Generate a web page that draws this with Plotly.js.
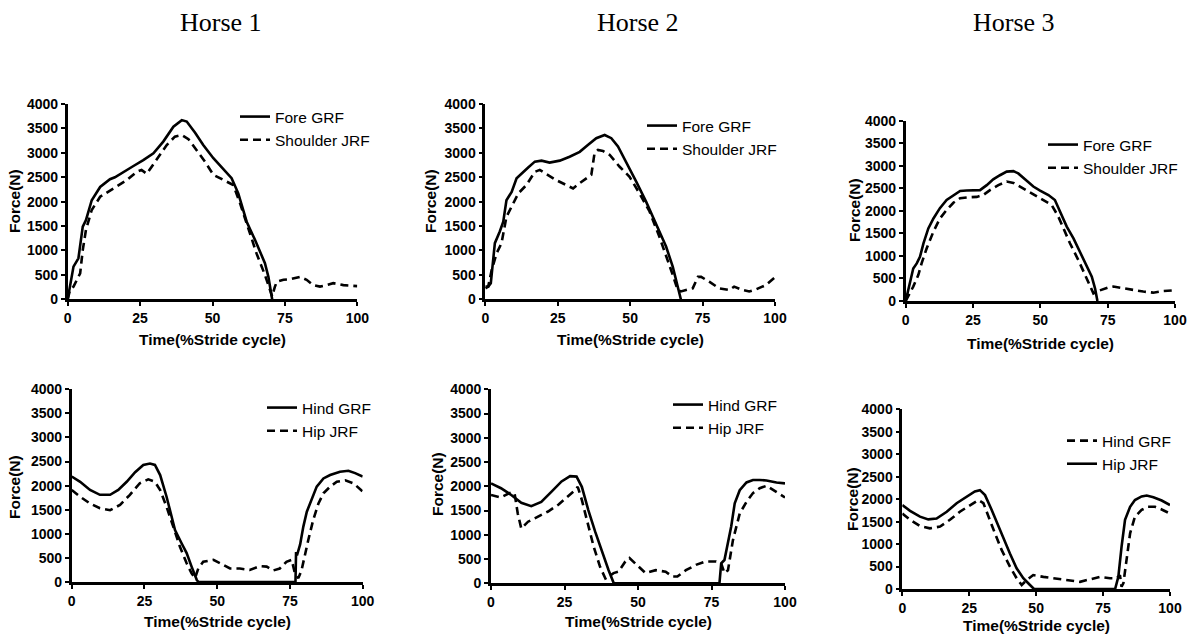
<!DOCTYPE html>
<html>
<head>
<meta charset="utf-8">
<script src="https://cdn.plot.ly/plotly-3.0.1.min.js"></script>
<style>
html,body{margin:0;padding:0;background:#fff;}
#chart{width:1188px;height:634px;}
</style>
</head>
<body>
<div id="chart"></div>
<script>
// ---------- data (Time % stride cycle, Force N) ----------
const horseTitles = ["Horse 1", "Horse 2", "Horse 3"];
const xTicks = [0, 25, 50, 75, 100];
const yTicks = [0, 500, 1000, 1500, 2000, 2500, 3000, 3500, 4000];

// Horse 1 – forelimb
const h1ForeGrfX = [0, 0.8, 2.0, 3.7, 4.6, 5.2, 6.3, 8.3, 11.2, 14.6, 16.3, 19.2, 22.7, 26.1, 29.6, 33.0, 36.5, 39.4, 41.1, 44.0, 46.8, 50.3, 53.7, 56.6, 58.9, 61.8, 64.7, 68.1, 69.3, 70.1, 70.6];
const h1ForeGrfY = [0, 260, 670, 840, 1280, 1490, 1620, 2030, 2300, 2460, 2500, 2610, 2730, 2850, 2990, 3230, 3535, 3670, 3640, 3410, 3160, 2890, 2680, 2480, 2170, 1590, 1215, 740, 460, 190, 0];
const h1ShoulderX = [0, 0.8, 2.0, 4.3, 5.2, 6.3, 8.3, 11.2, 15.8, 20.4, 23.8, 25.5, 27.3, 30.7, 34.2, 37.0, 39.4, 41.7, 44.5, 47.4, 50.3, 53.7, 57.2, 59.5, 62.4, 65.2, 68.1, 69.6, 70.6, 71.5, 72.2, 74.5, 76.8, 80.2, 82.5, 84.8, 87.1, 89.4, 91.7, 95.2, 100];
const h1ShoulderY = [0, 190, 260, 530, 1010, 1420, 1830, 2100, 2270, 2440, 2610, 2650, 2570, 2850, 3160, 3330, 3365, 3280, 3060, 2820, 2550, 2440, 2340, 1970, 1450, 940, 500, 260, 60, 250, 360, 400, 410, 460, 400, 290, 260, 290, 330, 290, 270];

// Horse 2 – forelimb
const h2ForeGrfX = [0, 1.0, 1.9, 3.3, 5.0, 6.2, 7.3, 9.1, 10.8, 12.5, 14.8, 17.1, 19.4, 22.2, 25.7, 29.1, 32.6, 35.4, 38.3, 41.2, 43.5, 45.8, 48.6, 52.1, 55.5, 59.0, 62.4, 64.7, 66.4, 67.5];
const h2ForeGrfY = [260, 260, 330, 1150, 1390, 1590, 2030, 2200, 2480, 2580, 2700, 2820, 2840, 2800, 2840, 2920, 3020, 3160, 3300, 3365, 3300, 3130, 2820, 2410, 2000, 1520, 1080, 670, 260, 0];
const h2ShoulderX = [0, 1.0, 2.2, 3.9, 5.6, 7.3, 9.1, 11.4, 14.2, 17.1, 18.8, 21.1, 24.5, 28.0, 30.3, 32.6, 34.9, 36.6, 37.7, 38.9, 40.6, 42.9, 46.3, 49.8, 53.2, 56.7, 60.1, 62.4, 64.7, 66.4, 67.5, 69.3, 71.6, 73.4, 74.5, 77.3, 80.7, 84.2, 85.9, 88.8, 91.1, 93.3, 96.8, 100];
const h2ShoulderY = [225, 260, 600, 940, 1150, 1690, 1900, 2170, 2340, 2610, 2650, 2570, 2440, 2340, 2270, 2380, 2480, 2550, 2990, 3060, 3040, 2960, 2720, 2510, 2170, 1800, 1280, 910, 500, 190, 160, 190, 225, 460, 460, 360, 225, 190, 260, 190, 160, 200, 290, 450];

// Horse 3 – forelimb
const h3ForeGrfX = [0, 1.0, 2.2, 2.8, 4.1, 5.3, 6.6, 8.4, 10.3, 12.7, 15.2, 17.7, 20.2, 22.6, 25.1, 27.6, 30.1, 32.5, 35.0, 37.5, 40.0, 41.8, 44.3, 47.4, 49.9, 53.0, 55.4, 57.3, 59.8, 62.3, 64.7, 67.2, 69.1, 70.3, 71.2];
const h3ForeGrfY = [0, 240, 540, 720, 835, 980, 1280, 1610, 1830, 2060, 2240, 2350, 2440, 2450, 2450, 2460, 2570, 2700, 2790, 2870, 2880, 2830, 2700, 2540, 2450, 2350, 2240, 1980, 1650, 1390, 1090, 800, 540, 280, 0];
const h3ShoulderX = [0, 1.6, 2.8, 4.7, 5.9, 7.8, 10.3, 12.7, 15.2, 17.7, 20.2, 23.3, 26.4, 28.8, 31.3, 34.4, 37.5, 40.0, 42.4, 45.5, 48.6, 51.7, 54.2, 56.7, 58.5, 61.0, 64.1, 66.6, 68.4, 69.7, 70.9, 72.2, 75.2, 77.1, 80.8, 84.5, 88.2, 91.9, 95.7, 100];
const h3ShoulderY = [0, 170, 320, 580, 835, 1170, 1540, 1830, 2020, 2180, 2280, 2300, 2310, 2350, 2460, 2570, 2650, 2620, 2540, 2430, 2330, 2230, 2130, 1870, 1610, 1280, 910, 580, 320, 170, 210, 240, 300, 320, 280, 240, 210, 185, 220, 240];

// Horse 1 – hindlimb
const h1HindGrfX = [0, 2.9, 6.3, 9.7, 13.2, 16.0, 18.9, 21.8, 24.6, 26.9, 28.6, 30.4, 32.6, 34.4, 35.5, 37.8, 39.5, 41.2, 43.0, 43.6, 76.9, 77.1, 77.4, 78.5, 79.6, 80.8, 82.5, 84.2, 86.5, 88.8, 92.2, 95.1, 97.4, 100];
const h1HindGrfY = [2190, 2080, 1910, 1810, 1810, 1910, 2080, 2280, 2430, 2460, 2430, 2220, 1770, 1360, 1080, 800, 600, 320, 40, 0, 0, 620, 550, 780, 1150, 1460, 1740, 1980, 2150, 2220, 2290, 2310, 2260, 2190];
const h1HipX = [0, 2.9, 6.3, 9.7, 13.2, 16.6, 20.0, 23.4, 26.3, 28.6, 30.4, 32.6, 34.9, 37.2, 39.5, 41.2, 42.4, 43.5, 45.2, 48.7, 51.0, 54.4, 57.8, 61.2, 64.7, 67.0, 69.3, 71.5, 73.8, 75.6, 76.7, 77.9, 79.0, 80.2, 81.3, 83.0, 84.8, 86.5, 88.8, 91.1, 94.0, 96.8, 100];
const h1HipY = [1910, 1770, 1630, 1530, 1490, 1600, 1810, 2050, 2130, 2080, 1910, 1560, 1150, 730, 390, 180, 80, 280, 420, 460, 390, 280, 280, 250, 330, 320, 240, 280, 420, 460, 180, 80, 250, 600, 870, 1290, 1630, 1840, 1980, 2080, 2110, 2050, 1880];

// Horse 2 – hindlimb
const h2HindGrfX = [0, 3.4, 6.9, 10.3, 13.7, 17.1, 20.6, 24.0, 26.9, 29.1, 30.9, 33.1, 35.4, 37.7, 40.0, 41.7, 42.0, 77.7, 78.3, 79.4, 80.6, 81.7, 82.9, 84.6, 86.9, 89.1, 91.4, 93.7, 97.1, 100];
const h2HindGrfY = [2060, 1960, 1820, 1660, 1590, 1680, 1890, 2100, 2210, 2200, 1990, 1510, 1070, 650, 270, 10, 0, 0, 410, 480, 820, 1170, 1650, 1920, 2080, 2130, 2130, 2120, 2080, 2060];
const h2HipX = [0, 3.4, 6.3, 8.0, 9.1, 10.3, 12.6, 16.0, 19.4, 22.9, 26.3, 28.6, 29.5, 30.9, 32.6, 34.9, 37.1, 38.9, 40.0, 41.7, 43.4, 45.7, 47.1, 49.1, 52.6, 56.0, 59.4, 61.7, 63.4, 66.3, 69.7, 73.1, 76.6, 78.3, 79.4, 80.6, 82.3, 84.6, 86.9, 89.1, 91.4, 93.7, 96.0, 98.3, 100];
const h2HipY = [1820, 1770, 1860, 1860, 1440, 1130, 1270, 1370, 1480, 1620, 1790, 1920, 1990, 1720, 1310, 760, 340, 100, 140, 210, 240, 450, 520, 410, 210, 270, 240, 140, 140, 270, 380, 450, 450, 410, 210, 270, 890, 1440, 1680, 1860, 1960, 2010, 1920, 1820, 1770];

// Horse 3 – hindlimb (legend as printed: dashed = Hind GRF, solid = Hip JRF)
const h3HindGrfX = [0, 2.9, 6.6, 10.3, 14.1, 17.8, 21.5, 25.3, 28.4, 30.3, 32.1, 34.6, 37.1, 40.2, 42.7, 44.6, 46.5, 48.9, 52.7, 56.4, 61.4, 66.4, 70.1, 73.8, 77.6, 80.1, 81.3, 81.9, 82.6, 83.8, 85.1, 86.9, 89.4, 91.8, 94.4, 96.9, 100];
const h3HindGrfY = [1680, 1540, 1400, 1350, 1390, 1540, 1720, 1870, 1980, 1910, 1610, 1240, 870, 500, 240, 90, 200, 310, 270, 240, 200, 160, 215, 270, 240, 240, 310, 50, 130, 650, 1240, 1610, 1760, 1830, 1830, 1770, 1680];
const h3HipX = [0, 2.9, 6.6, 9.7, 12.8, 16.6, 20.3, 24.0, 27.1, 29.0, 30.9, 33.4, 36.5, 40.2, 42.7, 45.2, 47.7, 49.2, 79.5, 80.7, 81.9, 83.2, 85.1, 86.9, 89.4, 91.3, 93.8, 96.9, 100];
const h3HipY = [1870, 1740, 1610, 1550, 1570, 1720, 1910, 2060, 2170, 2200, 2090, 1760, 1310, 790, 460, 240, 90, 0, 0, 270, 940, 1540, 1830, 1980, 2060, 2080, 2040, 1970, 1870];

// ---------- layout helpers ----------
const W = 1188, H = 634;
const FONT = "Liberation Sans, Arial, Helvetica, sans-serif";
const px = v => v / W;
const py = v => 1 - v / H;

// panel pixel boxes: [left, right, top, bottom]
const boxes = [
  [67.7, 357.3, 104, 299.3],
  [485.3, 775, 104, 299.3],
  [905.7, 1175, 120.7, 301],
  [71.7, 362.7, 389.3, 582],
  [491, 785, 389.3, 583.3],
  [902.3, 1170, 409.3, 589]
];
// legend anchor (px): [x, top]
const legPos = [[235, 100], [642, 109], [1043, 128], [262, 391], [668, 388], [1062, 424]];
const xTitlePos = [[212.5, 339], [630, 339], [1040, 343], [217, 621], [638, 621], [1036, 625]];
const yTitlePos = [[14, 201], [430, 201], [855, 210], [14, 487], [437, 484], [852, 499]];
const titlePos = [[221, 22], [638, 22], [1014, 22]];

const solid = {color: "#000", width: 2.6, dash: "solid"};
const dashed = {color: "#000", width: 2.6, dash: "8px,5px"};

const series = [
  [ {x: h1ForeGrfX, y: h1ForeGrfY, name: "Fore GRF", line: solid},
    {x: h1ShoulderX, y: h1ShoulderY, name: "Shoulder JRF", line: dashed} ],
  [ {x: h2ForeGrfX, y: h2ForeGrfY, name: "Fore GRF", line: solid},
    {x: h2ShoulderX, y: h2ShoulderY, name: "Shoulder JRF", line: dashed} ],
  [ {x: h3ForeGrfX, y: h3ForeGrfY, name: "Fore GRF", line: solid},
    {x: h3ShoulderX, y: h3ShoulderY, name: "Shoulder JRF", line: dashed} ],
  [ {x: h1HindGrfX, y: h1HindGrfY, name: "Hind GRF", line: solid},
    {x: h1HipX, y: h1HipY, name: "Hip JRF", line: dashed} ],
  [ {x: h2HindGrfX, y: h2HindGrfY, name: "Hind GRF", line: solid},
    {x: h2HipX, y: h2HipY, name: "Hip JRF", line: dashed} ],
  [ {x: h3HindGrfX, y: h3HindGrfY, name: "Hind GRF", line: dashed},
    {x: h3HipX, y: h3HipY, name: "Hip JRF", line: solid} ]
];

const traces = [];
const layout = {
  width: W, height: H,
  margin: {l: 0, r: 0, t: 0, b: 0},
  paper_bgcolor: "#fff", plot_bgcolor: "#fff",
  font: {family: FONT, color: "#000"},
  annotations: [],
  showlegend: true
};

series.forEach((pair, i) => {
  const n = i + 1;
  const xa = "xaxis" + (n === 1 ? "" : n), ya = "yaxis" + (n === 1 ? "" : n);
  const xr = "x" + (n === 1 ? "" : n), yr = "y" + (n === 1 ? "" : n);
  const lg = "legend" + (n === 1 ? "" : n);
  pair.forEach(s => {
    traces.push({
      type: "scatter", mode: "lines",
      x: s.x, y: s.y, name: s.name, line: s.line,
      xaxis: xr, yaxis: yr, legend: lg, hoverinfo: "x+y+name"
    });
  });
  const b = boxes[i];
  const axCommon = {
    showgrid: false, zeroline: false, showline: true,
    linecolor: "#000", linewidth: 2.6,
    ticks: "outside", ticklen: 4, tickwidth: 2.4, tickcolor: "#000",
    tickfont: {family: FONT, size: 14, weight: "bold", color: "#000"},
    fixedrange: true
  };
  layout[xa] = Object.assign({}, axCommon, {
    domain: [px(b[0]), px(b[1])], anchor: yr,
    range: [0, 100], tickmode: "array", tickvals: xTicks
  });
  layout[ya] = Object.assign({}, axCommon, {
    domain: [py(b[3]), py(b[2])], anchor: xr,
    range: [0, 4000], tickmode: "array", tickvals: yTicks
  });
  layout[lg] = {
    x: px(legPos[i][0]), y: py(legPos[i][1]), xanchor: "left", yanchor: "top",
    bgcolor: "rgba(0,0,0,0)", borderwidth: 0,
    font: {family: FONT, size: 15.5, color: "#000"},
    itemwidth: 30, tracegroupgap: 0
  };
  layout.annotations.push({
    xref: "paper", yref: "paper", x: px(xTitlePos[i][0]), y: py(xTitlePos[i][1]),
    xanchor: "center", yanchor: "middle", showarrow: false,
    text: "Time(%Stride cycle)",
    font: {family: FONT, size: 15.5, weight: "bold", color: "#000"}
  });
  layout.annotations.push({
    xref: "paper", yref: "paper", x: px(yTitlePos[i][0]), y: py(yTitlePos[i][1]),
    xanchor: "center", yanchor: "middle", showarrow: false, textangle: -90,
    text: "Force(N)",
    font: {family: FONT, size: 15.5, weight: "bold", color: "#000"}
  });
});

horseTitles.forEach((t, i) => {
  layout.annotations.push({
    xref: "paper", yref: "paper", x: px(titlePos[i][0]), y: py(titlePos[i][1]),
    xanchor: "center", yanchor: "middle", showarrow: false, text: t,
    font: {family: "Liberation Serif, Times New Roman, serif", size: 26, color: "#000"}
  });
});

Plotly.newPlot("chart", traces, layout, {displayModeBar: false, staticPlot: false});
</script>
</body>
</html>
